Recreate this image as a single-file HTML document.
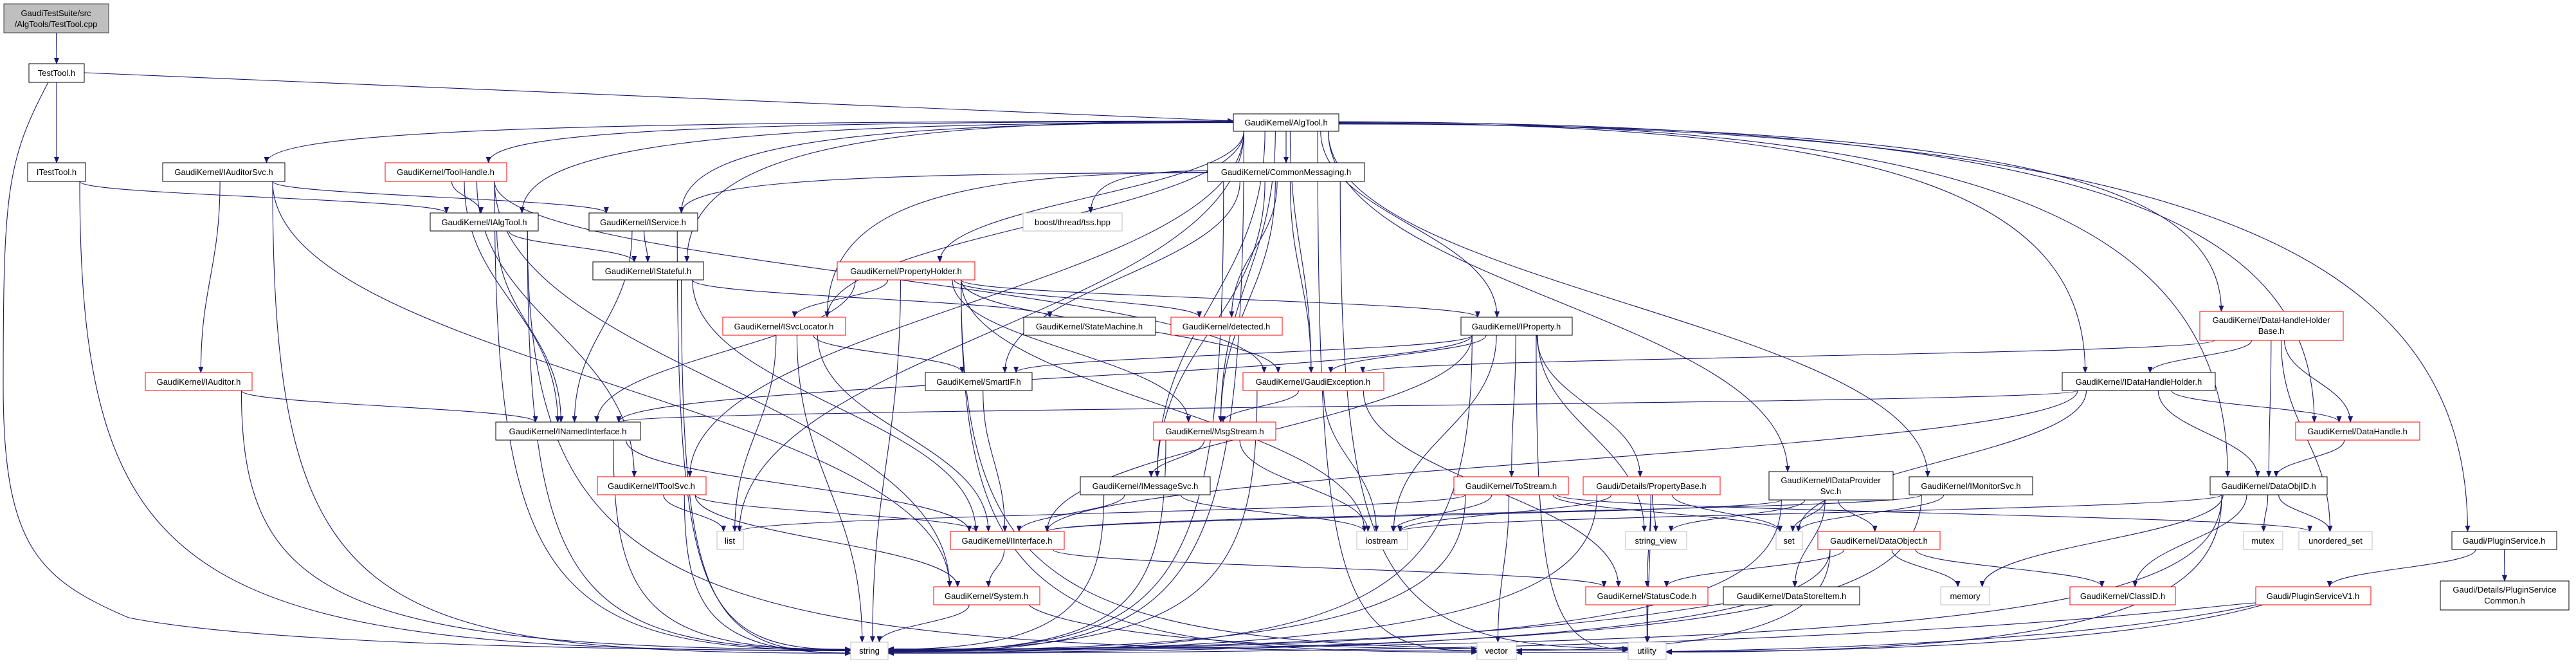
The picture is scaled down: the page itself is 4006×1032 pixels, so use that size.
<!DOCTYPE html>
<html><head><meta charset="utf-8"><style>
html,body{margin:0;padding:0;background:#fff;}
svg{display:block;}
text{font-family:"Liberation Sans",sans-serif;font-size:13px;fill:#000;}
</style></head><body>
<svg id="g" width="4006" height="1032" viewBox="0 0 4006 1032" xmlns="http://www.w3.org/2000/svg">
<defs><marker id="a" markerWidth="10" markerHeight="8" refX="9" refY="4" orient="auto" markerUnits="userSpaceOnUse"><path d="M0,0 L10,4 L0,8 z" fill="#191970"/></marker></defs>
<g id="edges" fill="none" stroke="#191970" stroke-width="1.1"></g>
<g id="nodes">
<rect x="6" y="6" width="163" height="45" fill="#bfbfbf" stroke="#404040"/><text x="87" y="25" text-anchor="middle">GaudiTestSuite/src</text><text x="87" y="42" text-anchor="middle">/AlgTools/TestTool.cpp</text>
<rect x="45" y="99" width="86" height="29" fill="#fff" stroke="#000"/><text x="88" y="118" text-anchor="middle">TestTool.h</text>
<rect x="43" y="253" width="90" height="29" fill="#fff" stroke="#000"/><text x="88" y="272" text-anchor="middle">ITestTool.h</text>
<rect x="253" y="253" width="190" height="29" fill="#fff" stroke="#000"/><text x="348" y="272" text-anchor="middle">GaudiKernel/IAuditorSvc.h</text>
<rect x="599" y="253" width="189" height="29" fill="#fff" stroke="#f00"/><text x="693" y="272" text-anchor="middle">GaudiKernel/ToolHandle.h</text>
<rect x="669" y="331" width="168" height="28" fill="#fff" stroke="#000"/><text x="753" y="350" text-anchor="middle">GaudiKernel/IAlgTool.h</text>
<rect x="916" y="331" width="169" height="28" fill="#fff" stroke="#000"/><text x="1000" y="350" text-anchor="middle">GaudiKernel/IService.h</text>
<rect x="922" y="407" width="172" height="28" fill="#fff" stroke="#000"/><text x="1008" y="426" text-anchor="middle">GaudiKernel/IStateful.h</text>
<rect x="226" y="579" width="166" height="28" fill="#fff" stroke="#f00"/><text x="309" y="598" text-anchor="middle">GaudiKernel/IAuditor.h</text>
<rect x="771" y="656" width="225" height="28" fill="#fff" stroke="#000"/><text x="883" y="675" text-anchor="middle">GaudiKernel/INamedInterface.h</text>
<rect x="929" y="741" width="169" height="28" fill="#fff" stroke="#f00"/><text x="1013" y="760" text-anchor="middle">GaudiKernel/IToolSvc.h</text>
<rect x="1918" y="177" width="164" height="27" fill="#fff" stroke="#000"/><text x="2000" y="195" text-anchor="middle">GaudiKernel/AlgTool.h</text>
<rect x="1878" y="253" width="244" height="29" fill="#fff" stroke="#000"/><text x="2000" y="272" text-anchor="middle">GaudiKernel/CommonMessaging.h</text>
<rect x="1591" y="331" width="154" height="28" fill="#fff" stroke="#bfbfbf"/><text x="1668" y="350" text-anchor="middle">boost/thread/tss.hpp</text>
<rect x="1302" y="407" width="214" height="28" fill="#fff" stroke="#f00"/><text x="1409" y="426" text-anchor="middle">GaudiKernel/PropertyHolder.h</text>
<rect x="1124" y="493" width="191" height="28" fill="#fff" stroke="#f00"/><text x="1219" y="512" text-anchor="middle">GaudiKernel/ISvcLocator.h</text>
<rect x="1592" y="493" width="205" height="28" fill="#fff" stroke="#000"/><text x="1694" y="512" text-anchor="middle">GaudiKernel/StateMachine.h</text>
<rect x="1821" y="493" width="173" height="28" fill="#fff" stroke="#f00"/><text x="1907" y="512" text-anchor="middle">GaudiKernel/detected.h</text>
<rect x="2272" y="493" width="173" height="28" fill="#fff" stroke="#000"/><text x="2358" y="512" text-anchor="middle">GaudiKernel/IProperty.h</text>
<rect x="1439" y="579" width="166" height="28" fill="#fff" stroke="#000"/><text x="1522" y="598" text-anchor="middle">GaudiKernel/SmartIF.h</text>
<rect x="1933" y="579" width="219" height="28" fill="#fff" stroke="#f00"/><text x="2042" y="598" text-anchor="middle">GaudiKernel/GaudiException.h</text>
<rect x="1794" y="656" width="190" height="28" fill="#fff" stroke="#f00"/><text x="1889" y="675" text-anchor="middle">GaudiKernel/MsgStream.h</text>
<rect x="1680" y="741" width="202" height="28" fill="#fff" stroke="#000"/><text x="1781" y="760" text-anchor="middle">GaudiKernel/IMessageSvc.h</text>
<rect x="1115" y="826" width="41" height="28" fill="#fff" stroke="#bfbfbf"/><text x="1135" y="845" text-anchor="middle">list</text>
<rect x="1478" y="826" width="177" height="28" fill="#fff" stroke="#f00"/><text x="1566" y="845" text-anchor="middle">GaudiKernel/IInterface.h</text>
<rect x="1452" y="912" width="165" height="28" fill="#fff" stroke="#f00"/><text x="1534" y="931" text-anchor="middle">GaudiKernel/System.h</text>
<rect x="1323" y="998" width="58" height="27" fill="#fff" stroke="#bfbfbf"/><text x="1352" y="1016" text-anchor="middle">string</text>
<rect x="2261" y="741" width="178" height="28" fill="#fff" stroke="#f00"/><text x="2350" y="760" text-anchor="middle">GaudiKernel/ToStream.h</text>
<rect x="2462" y="741" width="213" height="28" fill="#fff" stroke="#f00"/><text x="2568" y="760" text-anchor="middle">Gaudi/Details/PropertyBase.h</text>
<rect x="2751" y="733" width="193" height="44" fill="#fff" stroke="#000"/><text x="2847" y="751" text-anchor="middle">GaudiKernel/IDataProvider</text><text x="2847" y="768" text-anchor="middle">Svc.h</text>
<rect x="2969" y="741" width="192" height="28" fill="#fff" stroke="#000"/><text x="3065" y="760" text-anchor="middle">GaudiKernel/IMonitorSvc.h</text>
<rect x="2110" y="826" width="79" height="28" fill="#fff" stroke="#bfbfbf"/><text x="2149" y="845" text-anchor="middle">iostream</text>
<rect x="2528" y="826" width="95" height="28" fill="#fff" stroke="#bfbfbf"/><text x="2575" y="845" text-anchor="middle">string_view</text>
<rect x="2762" y="826" width="41" height="28" fill="#fff" stroke="#bfbfbf"/><text x="2782" y="845" text-anchor="middle">set</text>
<rect x="2827" y="826" width="190" height="28" fill="#fff" stroke="#f00"/><text x="2922" y="845" text-anchor="middle">GaudiKernel/DataObject.h</text>
<rect x="2466" y="912" width="190" height="28" fill="#fff" stroke="#f00"/><text x="2561" y="931" text-anchor="middle">GaudiKernel/StatusCode.h</text>
<rect x="2680" y="912" width="212" height="28" fill="#fff" stroke="#000"/><text x="2786" y="931" text-anchor="middle">GaudiKernel/DataStoreItem.h</text>
<rect x="2297" y="998" width="61" height="27" fill="#fff" stroke="#bfbfbf"/><text x="2327" y="1016" text-anchor="middle">vector</text>
<rect x="2532" y="998" width="59" height="27" fill="#fff" stroke="#bfbfbf"/><text x="2561" y="1016" text-anchor="middle">utility</text>
<rect x="3421" y="484" width="223" height="45" fill="#fff" stroke="#f00"/><text x="3532" y="502" text-anchor="middle">GaudiKernel/DataHandleHolder</text><text x="3532" y="519" text-anchor="middle">Base.h</text>
<rect x="3207" y="579" width="238" height="28" fill="#fff" stroke="#000"/><text x="3326" y="598" text-anchor="middle">GaudiKernel/IDataHandleHolder.h</text>
<rect x="3570" y="656" width="193" height="28" fill="#fff" stroke="#f00"/><text x="3666" y="675" text-anchor="middle">GaudiKernel/DataHandle.h</text>
<rect x="3437" y="741" width="182" height="28" fill="#fff" stroke="#000"/><text x="3528" y="760" text-anchor="middle">GaudiKernel/DataObjID.h</text>
<rect x="3489" y="826" width="61" height="28" fill="#fff" stroke="#bfbfbf"/><text x="3519" y="845" text-anchor="middle">mutex</text>
<rect x="3575" y="826" width="114" height="28" fill="#fff" stroke="#bfbfbf"/><text x="3632" y="845" text-anchor="middle">unordered_set</text>
<rect x="3813" y="826" width="163" height="28" fill="#fff" stroke="#000"/><text x="3894" y="845" text-anchor="middle">Gaudi/PluginService.h</text>
<rect x="3018" y="912" width="76" height="28" fill="#fff" stroke="#bfbfbf"/><text x="3056" y="931" text-anchor="middle">memory</text>
<rect x="3219" y="912" width="164" height="28" fill="#fff" stroke="#f00"/><text x="3301" y="931" text-anchor="middle">GaudiKernel/ClassID.h</text>
<rect x="3508" y="912" width="179" height="28" fill="#fff" stroke="#f00"/><text x="3597" y="931" text-anchor="middle">Gaudi/PluginServiceV1.h</text>
<rect x="3795" y="903" width="200" height="45" fill="#fff" stroke="#000"/><text x="3895" y="921" text-anchor="middle">Gaudi/Details/PluginService</text><text x="3895" y="938" text-anchor="middle">Common.h</text>
</g>
</svg>
<script>
var N={cpp:[6,6,169,51],tt:[45,99,131,128],itt:[43,253,133,282],aud:[253,253,443,282],th:[599,253,788,282],ialg:[669,331,837,359],isv:[916,331,1085,359],ist:[922,407,1094,435],iaud:[226,579,392,607],inam:[771,656,996,684],its:[929,741,1098,769],alg:[1918,177,2082,204],cm:[1878,253,2122,282],tss:[1591,331,1745,359],ph:[1302,407,1516,435],isl:[1124,493,1315,521],sm:[1592,493,1797,521],det:[1821,493,1994,521],ip:[2272,493,2445,521],sif:[1439,579,1605,607],ge:[1933,579,2152,607],ms:[1794,656,1984,684],imsg:[1680,741,1882,769],list:[1115,826,1156,854],ii:[1478,826,1655,854],sys:[1452,912,1617,940],str:[1323,998,1381,1025],ts:[2261,741,2439,769],pb:[2462,741,2675,769],idp:[2751,733,2944,777],imon:[2969,741,3161,769],ios:[2110,826,2189,854],sv:[2528,826,2623,854],set:[2762,826,2803,854],dob:[2827,826,3017,854],sc:[2466,912,2656,940],dsi:[2680,912,2892,940],vec:[2297,998,2358,1025],util:[2532,998,2591,1025],dhb:[3421,484,3644,529],idh:[3207,579,3445,607],dh:[3570,656,3763,684],doid:[3437,741,3619,769],mtx:[3489,826,3550,854],us:[3575,826,3689,854],ps:[3813,826,3976,854],mem:[3018,912,3094,940],cid:[3219,912,3383,940],psv1:[3508,912,3687,940],psc:[3795,903,3995,948]};
var E={cpp:"tt",tt:"itt alg str",itt:"ialg str",
alg:"cm aud th ialg isv ist ph isl ip its imon idp dhb idh dh doid ps list str vec ms imsg ge",
cm:"isv tss isl det ms imsg ge sif str util",aud:"isv iaud sys str",th:"ialg inam its ge sys str",
ialg:"inam ist str vec",isv:"ist inam str",ist:"ii sm str",iaud:"inam str",inam:"ii str",
ph:"isl inam ip det ms ge ios str vec util",isl:"sif ii list str",its:"ii list str sys",
ip:"ge inam ii ts pb ios sv str sif util",ge:"ms sc ios str",ms:"imsg str ios",imsg:"ii str ios",
sif:"ii",ii:"sys sc",sys:"str vec",ts:"ios set str vec list us",pb:"sv ios sc str util set",
idp:"ii dob dsi str sv set",imon:"set ii str",dob:"sc cid mem str vec",sc:"util",dsi:"str",
dhb:"idh dh doid ge us",idh:"doid dh inam ii set",dh:"doid",doid:"cid mtx us mem str ios util",
ps:"psv1 psc",psv1:"str vec util"};
var bottom={str:1,vec:1,util:1};
var seed=7;function rnd(){seed=(seed*9301+49297)%233280;return seed/233280;}
var g=document.getElementById('edges'),s="";
for(var k in E){E[k].split(" ").forEach(function(t){var a=N[k],b=N[t];if(!b)return;
var acx=(a[0]+a[2])/2,bcx=(b[0]+b[2])/2,amy=(a[1]+a[3])/2,bmy=(b[1]+b[3])/2;
var sx=acx,sy=a[3],tx=bcx,ty=b[1],d;
var w=a[2]-a[0];sx+=Math.max(-w*0.4,Math.min(w*0.4,(tx-sx)*0.15));
var bw=b[2]-b[0];tx+=Math.max(-bw*0.35,Math.min(bw*0.35,(sx-tx)*0.1));
if(k=="tt"&&t=="alg"){d="M131,113 L1918,188";}
else if(k=="tt"&&t=="str"){d="M75,128 C10,250 5,300 5,600 C5,850 60,900 200,960 C400,1000 900,1010 1323,1011";}
else if(bottom[t]&&Math.abs(bcx-acx)>200){
 var left=acx<bcx; tx=left?b[0]:b[2]; ty=bmy+(rnd()*8-4);
 var yb=ty-60-rnd()*40;
 d="M"+sx+","+sy+" C"+sx+","+(yb)+" "+(sx+(tx-sx)*0.15)+","+ty+" "+tx+","+ty;
}else if(ty<=sy+10){
 if(tx<sx){sx=a[0];sy=amy;tx=b[2];ty=bmy;}else{sx=a[2];sy=amy;tx=b[0];ty=bmy;}
 d="M"+sx+","+sy+" C"+(sx+(tx-sx)*0.4)+","+sy+" "+(sx+(tx-sx)*0.6)+","+ty+" "+tx+","+ty;
}else{var dy=ty-sy;
 if((k=="alg"||k=="cm")&&Math.abs(tx-sx)>2.5*dy){
  if(tx<sx){sx=a[0];}else{sx=a[2];} sy=amy+(rnd()*6-3);
  d="M"+sx+","+sy+" C"+(tx+(sx-tx)*0.25)+","+sy+" "+tx+","+(sy+(ty-sy)*0.3)+" "+tx+","+ty;
 }else
 d="M"+sx+","+sy+" C"+sx+","+(sy+dy*0.45)+" "+tx+","+(ty-dy*0.45)+" "+tx+","+ty;}
s+='<path d="'+d+'" marker-end="url(#a)"/>';});}
g.innerHTML=s;
</script>
</body></html>
